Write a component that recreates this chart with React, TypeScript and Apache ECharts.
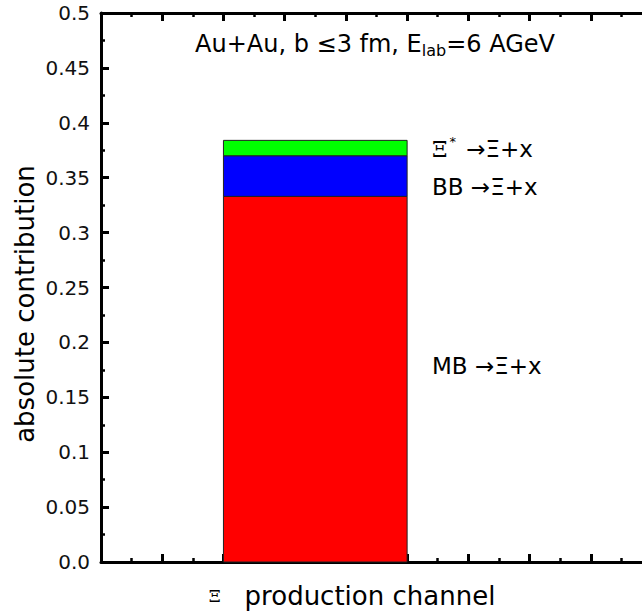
import React, { useEffect, useRef } from 'react';
import * as echarts from 'echarts';

// production channels, stacked from the bottom
const channelNames = ['MB', 'BB', 'Xi*'];
const contributions = [0.333, 0.037, 0.014];
const channelColors = ['#ff0000', '#0000ff', '#00ff00'];
// slot occupied by the single stacked bar on the (unlabelled) x scale
const barSlot = [4, 10];
const xRange = [0, 18];
const yTickLabels = ['0.0', '0.05', '0.1', '0.15', '0.2', '0.25', '0.3', '0.35', '0.4', '0.45', '0.5'];

const FONT = 'DejaVu Sans';

export default function App() {
  const ref = useRef<HTMLDivElement>(null);

  useEffect(() => {
    document.body.style.margin = '0';
    if (!ref.current) return;
    const chart = echarts.init(ref.current, null, { renderer: 'svg' });

    let base = 0;
    const stackData = contributions.map((v, i) => {
      const row = [barSlot[0], barSlot[1], base, base + v, i];
      base += v;
      return row;
    });

    const axisColor = '#000';
    const minorX = (position: 'top' | 'bottom') => ({
      type: 'value',
      position,
      min: xRange[0],
      max: xRange[1],
      interval: 1,
      axisLine: { show: true, onZero: false, lineStyle: { color: axisColor, width: 3 } },
      axisTick: { show: true, inside: true, length: 4, lineStyle: { color: axisColor, width: 2.5 } },
      axisLabel: { show: false },
      splitLine: { show: false },
    });
    const majorX = (position: 'top' | 'bottom') => ({
      type: 'value',
      position,
      min: xRange[0] - 1,
      max: xRange[1] - 1,
      interval: 2,
      axisLine: { show: false, onZero: false },
      axisTick: { show: true, inside: true, length: 8, lineStyle: { color: axisColor, width: 3 } },
      axisLabel: { show: false },
      splitLine: { show: false },
    });

    chart.setOption({
      animation: false,
      backgroundColor: '#fff',
      grid: { left: 101, right: 10, top: 13, bottom: 52 },
      xAxis: [minorX('bottom'), majorX('bottom'), minorX('top'), majorX('top')],
      yAxis: [
        {
          type: 'value',
          min: 0,
          max: 0.5,
          interval: 0.05,
          axisLine: { show: true, onZero: false, lineStyle: { color: axisColor, width: 3 } },
          axisTick: { show: true, inside: true, length: 8, lineStyle: { color: axisColor, width: 3 } },
          minorTick: { show: true, splitNumber: 2, length: 4, lineStyle: { color: axisColor, width: 2.5 } },
          splitLine: { show: false },
          minorSplitLine: { show: false },
          axisLabel: {
            margin: 11,
            color: '#111',
            fontSize: 20,
            fontFamily: FONT,
            formatter: (v: number) => yTickLabels[Math.round(v / 0.05)] ?? String(v),
          },
        },
      ],
      series: [
        {
          type: 'custom',
          name: 'contribution',
          xAxisIndex: 0,
          yAxisIndex: 0,
          data: stackData,
          encode: { x: [0, 1], y: [2, 3] },
          renderItem: (params: any, api: any) => {
            const p0 = api.coord([api.value(0), api.value(3)]);
            const p1 = api.coord([api.value(1), api.value(2)]);
            return {
              type: 'rect',
              shape: { x: p0[0], y: p0[1], width: p1[0] - p0[0], height: p1[1] - p0[1] },
              style: { fill: channelColors[api.value(4)], stroke: '#222', lineWidth: 1 },
            };
          },
        },
      ],
      graphic: [
        {
          type: 'text',
          x: 375,
          y: 44,
          style: {
            text: '{a|Au+Au, b ≤3 fm, E}{s|lab}{a|=6 AGeV}',
            align: 'center',
            verticalAlign: 'middle',
            fill: '#000',
            rich: {
              a: { fontSize: 24, fontFamily: FONT, fill: '#000' },
              s: { fontSize: 16, fontFamily: FONT, fill: '#000', padding: [12, 0, 0, 0] },
            },
          },
        },
        {
          type: 'text',
          x: 432,
          y: 149,
          style: {
            text: '{g|Ξ}{sup|*}{a| →Ξ+x}',
            align: 'left',
            verticalAlign: 'middle',
            rich: {
              g: { fontSize: 22, fontFamily: 'DejaVu Serif', fill: '#000' },
              sup: { fontSize: 13, fontFamily: FONT, fill: '#000', padding: [0, 3, 16, 2] },
              a: { fontSize: 23, fontFamily: FONT, fill: '#000' },
            },
          },
        },
        {
          type: 'text',
          x: 432,
          y: 187,
          style: { text: 'BB →Ξ+x', align: 'left', verticalAlign: 'middle', fontSize: 23, fontFamily: FONT, fill: '#000' },
        },
        {
          type: 'text',
          x: 432,
          y: 366,
          style: { text: 'MB →Ξ+x', align: 'left', verticalAlign: 'middle', fontSize: 23, fontFamily: FONT, fill: '#000' },
        },
        {
          type: 'text',
          x: 25,
          y: 304,
          rotation: Math.PI / 2,
          style: {
            text: 'absolute contribution',
            align: 'center',
            verticalAlign: 'middle',
            fontSize: 26,
            fontFamily: FONT,
            fill: '#000',
          },
        },
        {
          type: 'text',
          x: 352,
          y: 596,
          style: {
            text: '{g|Ξ}{a|production channel}',
            align: 'center',
            verticalAlign: 'middle',
            rich: {
              g: { fontSize: 17, fontFamily: 'DejaVu Serif', fill: '#000', padding: [0, 24, 0, 0] },
              a: { fontSize: 26, fontFamily: FONT, fill: '#000' },
            },
          },
        },
      ],
    });

    return () => chart.dispose();
  }, []);

  return (
    <div style={{ width: 642, height: 614, overflow: 'hidden' }}>
      <div ref={ref} style={{ width: 662, height: 614 }} />
    </div>
  );
}
